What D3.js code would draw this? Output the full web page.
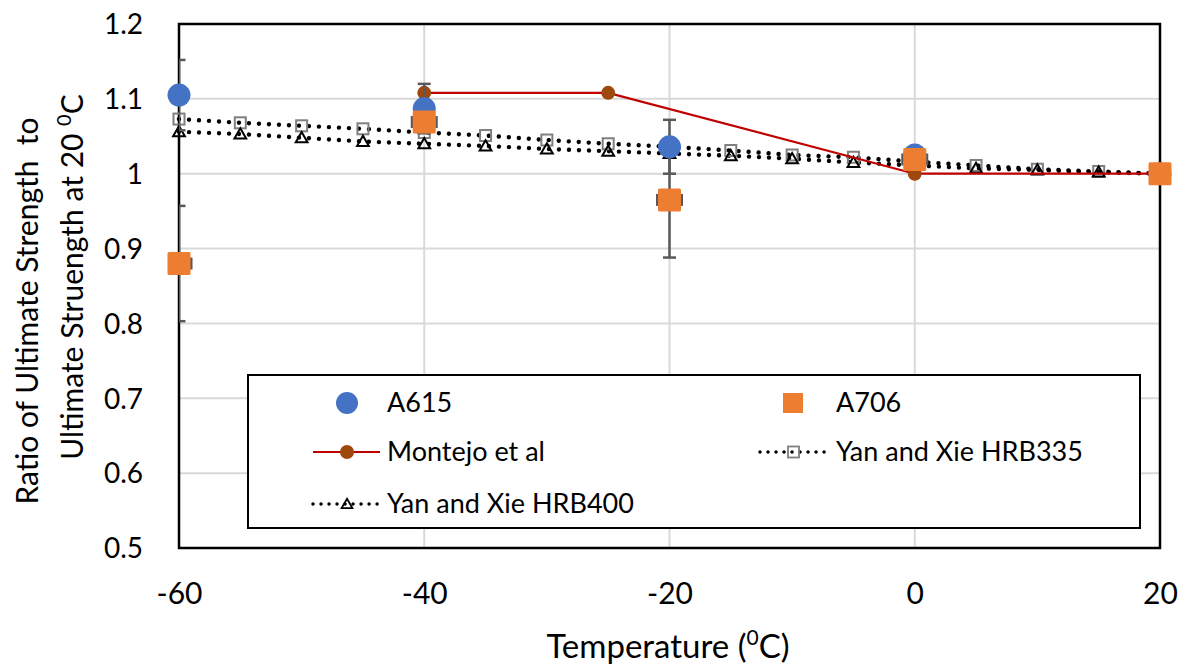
<!DOCTYPE html>
<html>
<head>
<meta charset="utf-8">
<script src="https://cdn.jsdelivr.net/npm/d3@7"></script>
<style>
  html, body { margin: 0; padding: 0; background: #fff; }
  svg { display: block; font-family: Lato, "Open Sans", sans-serif; }
</style>
</head>
<body>
<svg id="chart" width="1190" height="667"></svg>
<script>
// ---- data ----
const xTicks = [-60, -40, -20, 0, 20];
const xTickLabels = ["-60", "-40", "-20", "0", "20"];
const yTicks = [0.5, 0.6, 0.7, 0.8, 0.9, 1.0, 1.1, 1.2];
const yTickLabels = ["0.5", "0.6", "0.7", "0.8", "0.9", "1", "1.1", "1.2"];

// Measured ratios (mean with error)
const testTemps = [-60, -40, -20, 0, 20];
const a615 = [1.105, 1.087, 1.036, 1.025, 1.0];
const a615Err = [0.047, 0.033, 0.036, 0.01, 0];
const a706 = [0.880, 1.069, 0.965, 1.019, 1.0];
const a706Err = [0.077, 0.01, 0.077, 0.01, 0];
const a706TempErr = [1, 1, 1, 1, 0];

// Montejo et al
const montejoTemps = [-40, -25, 0, 20];
const montejo = [1.108, 1.108, 1.0, 1.0];

// Yan and Xie
const yanTemps = [-60, -55, -50, -45, -40, -35, -30, -25, -20, -15, -10, -5, 0, 5, 10, 15, 20];
const hrb335 = [1.073, 1.068, 1.064, 1.060, 1.055, 1.051, 1.045, 1.040, 1.036, 1.031, 1.025, 1.022, 1.016, 1.011, 1.006, 1.003, 1.0];
const hrb400 = [1.056, 1.053, 1.048, 1.043, 1.040, 1.037, 1.033, 1.030, 1.027, 1.024, 1.020, 1.015, 1.011, 1.007, 1.005, 1.002, 1.0];

const legendLabels = ["A615", "A706", "Montejo et al", "Yan and Xie HRB335", "Yan and Xie HRB400"];

// ---- layout ----
const svg = d3.select("#chart");
const pL = 179, pR = 1160, pT = 24, pB = 548;
const x = d3.scaleLinear().domain([-60, 20]).range([pL, pR]);
const y = d3.scaleLinear().domain([0.5, 1.2]).range([pB, pT]);

const C = {
  blue: "#4472C4", orange: "#ED7D31", brown: "#9E480E", red: "#C00000",
  grid: "#D9D9D9", err: "#595959", sq: "#7F7F7F"
};

svg.append("defs").append("clipPath").attr("id", "plotClip")
  .append("rect").attr("x", pL).attr("y", pT).attr("width", pR - pL).attr("height", pB - pT);

// gridlines
const grid = svg.append("g");
grid.selectAll("line.h").data(yTicks.filter(d => d > 0.5 && d < 1.2)).join("line")
  .attr("x1", pL).attr("x2", pR).attr("y1", d => y(d)).attr("y2", d => y(d))
  .attr("stroke", C.grid).attr("stroke-width", 2);
grid.selectAll("line.v").data(xTicks.filter(d => d > -60 && d < 20)).join("line")
  .attr("y1", pT).attr("y2", pB).attr("x1", d => x(d)).attr("x2", d => x(d))
  .attr("stroke", C.grid).attr("stroke-width", 2);

// axes (labels only; frame drawn as a box)
const yAxis = svg.append("g").attr("transform", `translate(${pL - 36},0)`)
  .call(d3.axisLeft(y).tickValues(yTicks).tickFormat((d, i) => yTickLabels[i]).tickSize(0));
yAxis.select(".domain").remove();
yAxis.selectAll("text").attr("font-size", 28).attr("fill", "#000").attr("font-family", "Lato, sans-serif").attr("dy", "0.35em").attr("x", 0);

const xAxis = svg.append("g").attr("transform", `translate(0,${pB + 35})`)
  .call(d3.axisBottom(x).tickValues(xTicks).tickFormat((d, i) => xTickLabels[i]).tickSize(0));
xAxis.select(".domain").remove();
xAxis.selectAll("text").attr("font-size", 30).attr("fill", "#000").attr("font-family", "Lato, sans-serif").attr("dy", "0.71em").attr("y", 0);

// plot frame
svg.append("rect").attr("x", pL).attr("y", pT).attr("width", pR - pL).attr("height", pB - pT)
  .attr("fill", "none").attr("stroke", "#000").attr("stroke-width", 2.5);

// dotted series
const path = (xs, ys) => d3.line().x((d, i) => x(xs[i])).y(d => y(d))(ys);
const plot = svg.append("g");
[hrb335, hrb400].forEach(s => {
  plot.append("path").attr("d", path(yanTemps, s)).attr("fill", "none")
    .attr("stroke", "#000").attr("stroke-width", 4.4).attr("stroke-linecap", "round")
    .attr("stroke-dasharray", "0.01 10");
});
const sqSize = 11;
plot.selectAll("rect.h335").data(hrb335).join("rect")
  .attr("x", (d, i) => x(yanTemps[i]) - sqSize / 2).attr("y", d => y(d) - sqSize / 2)
  .attr("width", sqSize).attr("height", sqSize)
  .attr("fill", "none").attr("stroke", C.sq).attr("stroke-width", 2);
const tri = d3.symbol().type(d3.symbolTriangle).size(60);
plot.selectAll("path.h400").data(hrb400).join("path")
  .attr("d", tri).attr("transform", (d, i) => `translate(${x(yanTemps[i])},${y(d) + 1})`)
  .attr("fill", "none").attr("stroke", "#000").attr("stroke-width", 2);

// Montejo et al
plot.append("path").attr("d", path(montejoTemps, montejo)).attr("fill", "none")
  .attr("stroke", C.red).attr("stroke-width", 2.2);
plot.selectAll("circle.mont").data(montejo).join("circle")
  .attr("cx", (d, i) => x(montejoTemps[i])).attr("cy", d => y(d)).attr("r", 7)
  .attr("fill", C.brown);

// error bars
const eb = svg.append("g").attr("clip-path", "url(#plotClip)")
  .attr("stroke", C.err).attr("stroke-width", 2.5);
function vErr(vals, errs) {
  vals.forEach((v, i) => {
    if (!errs[i]) return;
    const cx = x(testTemps[i]);
    const y1 = y(v + errs[i]), y2 = y(v - errs[i]);
    eb.append("line").attr("x1", cx).attr("x2", cx).attr("y1", y1).attr("y2", y2);
    [y1, y2].forEach(yy => eb.append("line").attr("x1", cx - 6.5).attr("x2", cx + 6.5).attr("y1", yy).attr("y2", yy));
  });
}
vErr(a615, a615Err);
vErr(a706, a706Err);
a706.forEach((v, i) => {
  if (!a706TempErr[i]) return;
  const cy = y(v);
  const x1 = x(testTemps[i] - a706TempErr[i]), x2 = x(testTemps[i] + a706TempErr[i]);
  eb.append("line").attr("x1", x1).attr("x2", x2).attr("y1", cy).attr("y2", cy);
  [x1, x2].forEach(xx => eb.append("line").attr("x1", xx).attr("x2", xx).attr("y1", cy - 6).attr("y2", cy + 6));
});

// measured markers
svg.append("g").selectAll("circle").data(a615).join("circle")
  .attr("cx", (d, i) => x(testTemps[i])).attr("cy", d => y(d)).attr("r", 11.5)
  .attr("fill", C.blue);
const sqA = 23;
svg.append("g").selectAll("rect").data(a706).join("rect")
  .attr("x", (d, i) => x(testTemps[i]) - sqA / 2).attr("y", d => y(d) - sqA / 2)
  .attr("width", sqA).attr("height", sqA).attr("rx", 1.5)
  .attr("fill", C.orange);

// legend
const lg = svg.append("g");
lg.append("rect").attr("x", 248).attr("y", 375).attr("width", 892).attr("height", 153)
  .attr("fill", "#fff").attr("stroke", "#000").attr("stroke-width", 2);
const rows = [403, 452, 504];
const lt = (tx, ty, s) => lg.append("text").attr("x", tx).attr("y", ty).attr("dy", "0.35em")
  .attr("font-size", 27).attr("fill", "#000").text(s);

lg.append("circle").attr("cx", 347).attr("cy", rows[0]).attr("r", 11).attr("fill", C.blue);
lt(387, rows[0], legendLabels[0]);
lg.append("rect").attr("x", 783).attr("y", rows[0] - 10).attr("width", 20).attr("height", 20).attr("fill", C.orange);
lt(836, rows[0], legendLabels[1]);

lg.append("line").attr("x1", 313).attr("x2", 380).attr("y1", rows[1]).attr("y2", rows[1]).attr("stroke", C.red).attr("stroke-width", 2.2);
lg.append("circle").attr("cx", 347).attr("cy", rows[1]).attr("r", 7).attr("fill", C.brown);
lt(387, rows[1], legendLabels[2]);

lg.append("line").attr("x1", 760).attr("x2", 828).attr("y1", rows[1]).attr("y2", rows[1])
  .attr("stroke", "#000").attr("stroke-width", 3.5).attr("stroke-linecap", "round").attr("stroke-dasharray", "0.01 8");
lg.append("rect").attr("x", 788).attr("y", rows[1] - 5.5).attr("width", 11).attr("height", 11)
  .attr("fill", "none").attr("stroke", C.sq).attr("stroke-width", 1.8);
lt(836, rows[1], legendLabels[3]);

lg.append("line").attr("x1", 313).attr("x2", 380).attr("y1", rows[2]).attr("y2", rows[2])
  .attr("stroke", "#000").attr("stroke-width", 3.5).attr("stroke-linecap", "round").attr("stroke-dasharray", "0.01 8");
lg.append("path").attr("d", d3.symbol().type(d3.symbolTriangle).size(50))
  .attr("transform", `translate(347,${rows[2] + 1})`)
  .attr("fill", "none").attr("stroke", "#000").attr("stroke-width", 1.8);
lt(387, rows[2], legendLabels[4]);

// axis titles
const xt = svg.append("text").attr("x", 668).attr("y", 658).attr("text-anchor", "middle")
  .attr("font-size", 33).attr("fill", "#000");
xt.append("tspan").text("Temperature (");
xt.append("tspan").attr("font-size", 21).attr("dy", -13).text("0");
xt.append("tspan").attr("dy", 13).text("C)");

const yt1 = svg.append("text").attr("transform", "translate(38,311) rotate(-90)")
  .attr("text-anchor", "middle").attr("font-size", 30).attr("fill", "#000")
  .style("white-space", "pre")
  .text("Ratio of Ultimate Strength  to");
const yt2 = svg.append("text").attr("transform", "translate(83,277) rotate(-90)")
  .attr("text-anchor", "middle").attr("font-size", 30).attr("fill", "#000");
yt2.append("tspan").text("Ultimate Struength at 20 ");
yt2.append("tspan").attr("font-size", 20).attr("dy", -12).text("0");
yt2.append("tspan").attr("dy", 12).text("C");
</script>
</body>
</html>
